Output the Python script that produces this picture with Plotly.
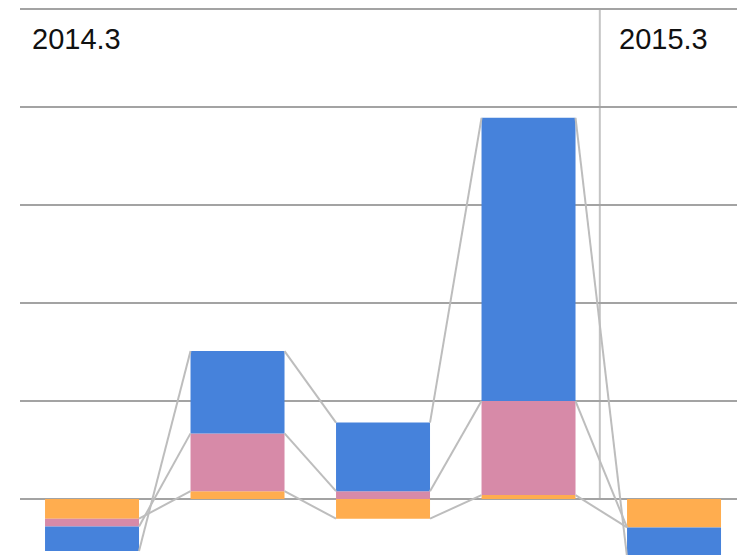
import plotly.graph_objects as go

# Quarterly components (stacked; negatives stack downward)
periods = ["2014.3", "2014.4", "2015.1", "2015.2", "2015.3"]
orange_vals = [-2.0, 0.8, -2.0, 0.4, -2.9]
pink_vals = [-0.8, 5.9, 0.8, 9.6, 0.0]
blue_vals = [-2.5, 8.4, 7.0, 28.9, -3.0]

series = [
    ("orange", orange_vals, "#FFAD4F"),
    ("pink", pink_vals, "#D78AA8"),
    ("blue", blue_vals, "#4682DB"),
]

BAR_WIDTH = 0.646
xs = list(range(len(periods)))

fig = go.Figure()
for name, vals, color in series:
    fig.add_trace(go.Bar(x=xs, y=vals, name=name, marker_color=color,
                         marker_line_width=0, width=BAR_WIDTH))

# Series lines: connect the stacked end of each segment to the next bar
pos = [0.0] * len(xs)
neg = [0.0] * len(xs)
for name, vals, color in series:
    ends = []
    for i, v in enumerate(vals):
        if v > 0:
            pos[i] += v
            ends.append(pos[i])
        else:
            neg[i] += v
            ends.append(neg[i])
    for i in range(len(xs) - 1):
        fig.add_trace(go.Scatter(
            x=[xs[i] + BAR_WIDTH / 2, xs[i + 1] - BAR_WIDTH / 2],
            y=[ends[i], ends[i + 1]],
            mode="lines", line=dict(color="#BDBDBD", width=2),
            hoverinfo="skip", showlegend=False))

# Year divider between 2015.2 and 2015.3
fig.add_shape(type="line", x0=3.49, x1=3.49, y0=0, y1=50, xref="x", yref="y",
              line=dict(color="#C4C4C4", width=2), layer="below")

label_font = dict(family="Liberation Sans, Arial, sans-serif", size=29, color="#111111")
fig.add_annotation(text="2014.3", xref="paper", yref="y", x=0.014, y=46.9,
                   xanchor="left", yanchor="middle", showarrow=False, font=label_font)
fig.add_annotation(text="2015.3", xref="paper", yref="y", x=0.833, y=46.9,
                   xanchor="left", yanchor="middle", showarrow=False, font=label_font)

fig.update_layout(
    width=737, height=555,
    margin=dict(l=20, r=0, t=0, b=0),
    barmode="relative",
    showlegend=False,
    plot_bgcolor="white", paper_bgcolor="white",
    xaxis=dict(range=[-0.495, -0.495 + 717 / 145.5], showticklabels=False,
               showgrid=False, zeroline=False, showline=False, ticks=""),
    yaxis=dict(range=[-5.71, 50.92], tickvals=[0, 10, 20, 30, 40, 50],
               showticklabels=False, showgrid=True, gridcolor="#A3A3A3",
               gridwidth=2, zeroline=True, zerolinecolor="#A3A3A3",
               zerolinewidth=2, showline=False, ticks=""),
)

fig.write_html("out.html")
